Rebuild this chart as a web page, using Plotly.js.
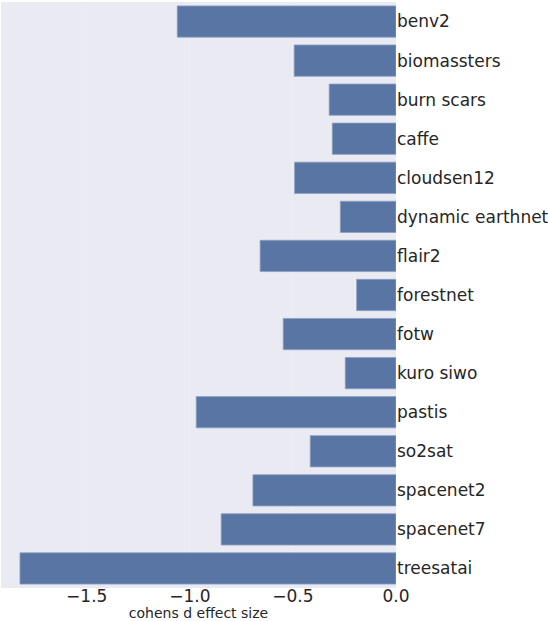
<!DOCTYPE html>
<html>
<head>
<meta charset="utf-8">
<script src="https://cdn.plot.ly/plotly-3.0.1.min.js"></script>
<style>
  html, body { margin: 0; padding: 0; background: #ffffff; }
  #chart { width: 548px; height: 621px; }
</style>
</head>
<body>
<div id="chart"></div>
<script>
// datasets, top to bottom
var datasets = ['benv2', 'biomassters', 'burn scars', 'caffe', 'cloudsen12',
  'dynamic earthnet', 'flair2', 'forestnet', 'fotw', 'kuro siwo', 'pastis',
  'so2sat', 'spacenet2', 'spacenet7', 'treesatai'];

// cohens d effect size per dataset
var effectSize = [-1.061, -0.494, -0.324, -0.309, -0.492,
  -0.270, -0.659, -0.191, -0.547, -0.246, -0.969,
  -0.416, -0.694, -0.848, -1.824];

var xTicks = [-1.5, -1.0, -0.5, 0.0];
var xTickText = ['\u22121.5', '\u22121.0', '\u22120.5', '0.0'];

var trace = {
  type: 'bar',
  orientation: 'h',
  x: effectSize,
  y: datasets,
  width: 0.8,
  marker: {color: '#5975a4', line: {color: '#8a9fc4', width: 0.8}},
  hoverinfo: 'x+y'
};

var layout = {
  width: 548,
  height: 621,
  margin: {l: 1, r: 152, t: 2, b: 33},
  paper_bgcolor: '#ffffff',
  plot_bgcolor: '#eaeaf2',
  showlegend: false,
  font: {family: 'DejaVu Sans, sans-serif', color: '#262626', size: 17},
  bargap: 0.2,
  xaxis: {
    range: [-1.916, 0],
    tickvals: xTicks,
    ticktext: xTickText,
    showgrid: true,
    gridcolor: '#ededf4',
    gridwidth: 1,
    zeroline: false,
    showline: false,
    ticks: '',
    ticklabelstandoff: -4,
    tickfont: {size: 17},
    title: {text: 'cohens d effect size', font: {size: 14}, standoff: 5},
    fixedrange: true
  },
  yaxis: {
    type: 'category',
    autorange: 'reversed',
    side: 'right',
    showgrid: false,
    zeroline: false,
    showline: false,
    ticks: '',
    tickfont: {size: 17},
    fixedrange: true
  }
};

Plotly.newPlot('chart', [trace], layout, {displayModeBar: false, staticPlot: true});
</script>
</body>
</html>
